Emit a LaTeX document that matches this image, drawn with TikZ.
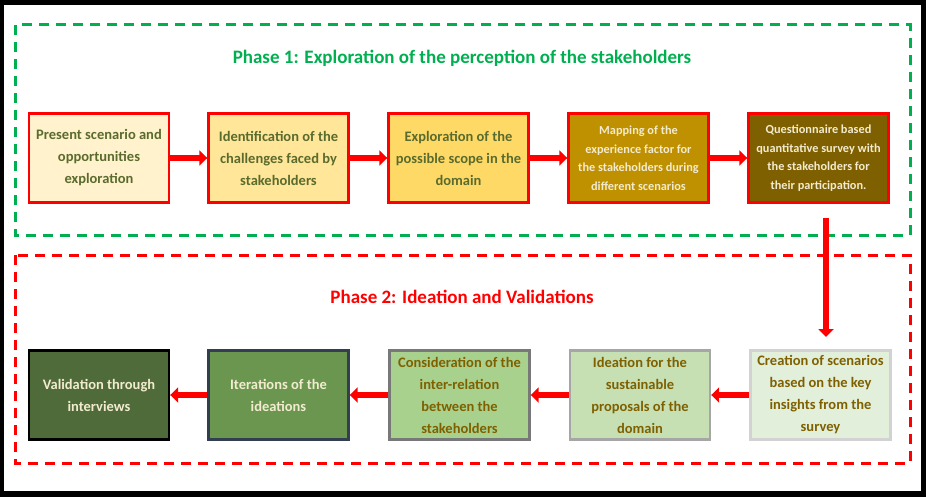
\documentclass[tikz,border=0pt]{standalone}
\usepackage{fontspec}
\setmainfont{Carlito}
\usetikzlibrary{arrows.meta}
\definecolor{gtitle}{HTML}{00B050}
\definecolor{olivetxt}{HTML}{5A6B2E}
\definecolor{browntxt}{HTML}{7F6000}
\definecolor{lighttxt}{HTML}{F2EBCF}
\definecolor{c1}{HTML}{FFF2CC}
\tikzset{
 box/.style={draw=red,line width=2.4pt,minimum width=140pt,minimum height=89pt,align=center,font=\bfseries\fontsize{14.5}{22}\selectfont,inner sep=2pt},
 sbox/.style={box,font=\bfseries\fontsize{12.3}{18.5}\selectfont},
 flow/.style={draw=red,line width=6pt,-{Triangle[length=8pt,width=15pt]}},
}
\begin{document}
\begin{tikzpicture}[x=1pt,y=-1pt]
\fill[black] (0,0) rectangle (926,497);
\fill[white] (4,5) rectangle (921,491);
\useasboundingbox (0,0) rectangle (926,497);
\draw[gtitle,line width=3pt,dash pattern=on 10pt off 7pt] (15,25) rectangle (910,235);
\draw[red,line width=3pt,dash pattern=on 10pt off 7pt] (15,255) rectangle (910,463);
\node[text=gtitle,font=\bfseries\fontsize{19}{22}\selectfont] (t1) at (462,58) {Phase 1: Exploration of the perception of the stakeholders};
\node[text=red,font=\bfseries\fontsize{19}{22}\selectfont] (t2) at (462,297) {Phase 2: Ideation and Validations};
% phase 1
\node[box,fill=c1,text=olivetxt] (a1) at (99,158) {Present scenario and\\opportunities\\exploration};
\node[box,fill={rgb,255:red,255;green,230;blue,153},text=olivetxt] (a2) at (278.5,158) {Identification of the\\challenges faced by\\stakeholders};
\node[box,fill={rgb,255:red,255;green,217;blue,102},text=olivetxt] (a3) at (458.5,158) {Exploration of the\\possible scope in the\\domain};
\node[sbox,fill={rgb,255:red,191;green,144;blue,0},text=lighttxt] (a4) at (638.5,158) {Mapping of the\\experience factor for\\the stakeholders during\\different scenarios};
\node[sbox,fill={rgb,255:red,127;green,96;blue,0},text=lighttxt] (a5) at (818.5,158) {Questionnaire based\\quantitative survey with\\the stakeholders for\\their participation.};
% phase 2
\node[box,draw={rgb,255:red,210;green,210;blue,210},fill={rgb,255:red,226;green,239;blue,218},text=browntxt] (b5) at (820.5,395) {Creation of scenarios\\based on the key\\insights from the\\survey};
\node[box,draw={rgb,255:red,166;green,166;blue,166},fill={rgb,255:red,198;green,224;blue,180},text=browntxt] (b4) at (640,395) {Ideation for the\\sustainable\\proposals of the\\domain};
\node[box,draw={rgb,255:red,120;green,120;blue,120},fill={rgb,255:red,169;green,209;blue,142},text=browntxt] (b3) at (459.5,395) {Consideration of the\\inter-relation\\between the\\stakeholders};
\node[box,draw={rgb,255:red,51;green,63;blue,80},fill={rgb,255:red,106;green,150;blue,80},text=lighttxt] (b2) at (278.5,395) {Iterations of the\\ideations};
\node[box,draw=black,fill={rgb,255:red,79;green,107;blue,58},text=lighttxt] (b1) at (99,395) {Validation through\\interviews};
% arrows
\draw[flow] (a1) -- (a2);
\draw[flow] (a2) -- (a3);
\draw[flow] (a3) -- (a4);
\draw[flow] (a4) -- (a5);
\coordinate (v1) at (826,218);
\coordinate (v2) at (826,337);
\draw[flow] (v1) -- (v2);
\draw[flow] (b5) -- (b4);
\draw[flow] (b4) -- (b3);
\draw[flow] (b3) -- (b2);
\draw[flow] (b2) -- (b1);
\end{tikzpicture}
\end{document}
